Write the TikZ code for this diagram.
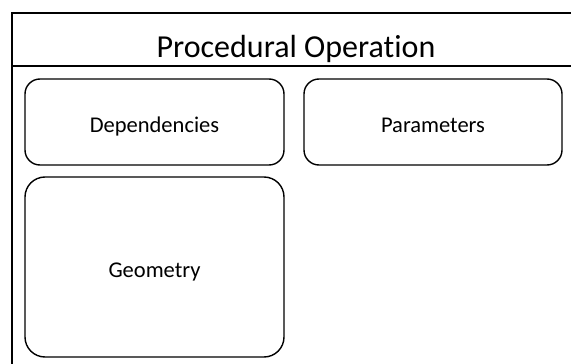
\documentclass[tikz,border=0pt]{standalone}
\usepackage{fontspec}
\setmainfont{Carlito}[Ligatures=NoCommon]
\begin{document}
\begin{tikzpicture}[x=1pt,y=-1pt,
  partbox/.style={draw, line width=1.4pt, rounded corners=15pt, inner sep=0pt, outer sep=0pt,
    font=\fontsize{22.5}{26}\selectfont, text depth=0pt, text height=11pt},
  titletext/.style={inner sep=0pt, font=\fontsize{32}{38}\selectfont}]
\useasboundingbox (0,0) rectangle (571,364);
\begin{scope}
\clip (0,0) rectangle (571,364);
\draw[line width=2pt] (12,13) rectangle (590,390);
\draw[line width=1.2pt] (12,66) -- (590,66);
\end{scope}
\node[titletext, anchor=base] (title) at (296,57) {Procedural Operation};
\node[partbox, minimum width=259pt, minimum height=86pt] (dep) at (154.5,122) {};
\node[partbox, minimum width=258pt, minimum height=86pt] (par) at (433,122) {};
\node[partbox, rounded corners=20pt, minimum width=259pt, minimum height=180pt] (geo) at (154.5,267) {};
\node[font=\fontsize{22.5}{26}\selectfont, inner sep=0pt, anchor=base] (deptext) at (154.5,132) {Dependencies};
\node[font=\fontsize{22.5}{26}\selectfont, inner sep=0pt, anchor=base] (partext) at (433,132) {Parameters};
\node[font=\fontsize{22.5}{26}\selectfont, inner sep=0pt, anchor=base] (geotext) at (154.5,277) {Geometry};
\end{tikzpicture}
\end{document}
